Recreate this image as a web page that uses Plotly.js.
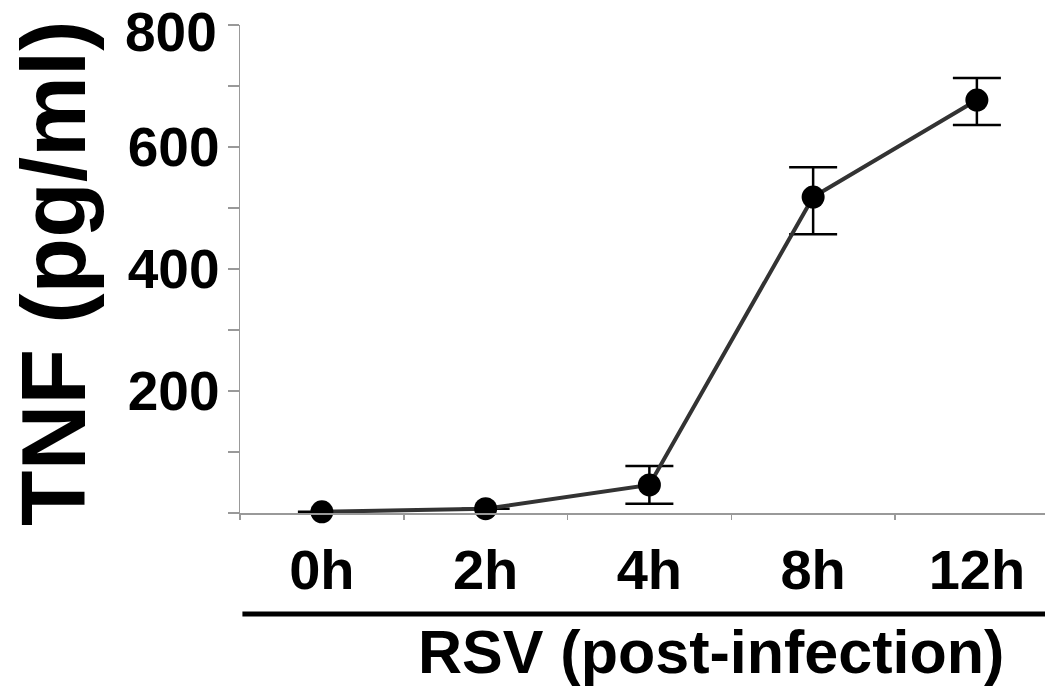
<!DOCTYPE html>
<html>
<head>
<meta charset="utf-8">
<script src="https://cdn.plot.ly/plotly-3.0.1.min.js"></script>
<style>html,body{margin:0;padding:0;background:#fff;}#chart{width:1045px;height:691px;}</style>
</head>
<body>
<div id="chart"></div>
<script>
const categories = ["0h", "2h", "4h", "8h", "12h"];
const tnfValues = [2, 7, 46, 518, 677];
const errPlus = [0, 0, 31, 49, 36];
const errMinus = [0, 0, 31, 61, 41];
const yTickVals = [0, 100, 200, 300, 400, 500, 600, 700, 800];
const yTickText = ["", "", "200", "", "400", "", "600", "", "800"];
const xTitle = "RSV (post-infection)";
const yTitle = "TNF (pg/ml)";

const FONT = "Liberation Sans, Arial, sans-serif";

// the top label sits at the page edge; it is drawn as an annotation so it stays inside the page
const topIdx = yTickVals.length - 1;
const axisTickText = yTickText.map((t, i) => (i === topIdx ? "" : t));

const trace = {
  type: "scatter",
  mode: "lines+markers",
  x: categories,
  y: tnfValues,
  line: {color: "#333333", width: 4},
  marker: {color: "#000000", size: 23},
  error_y: {
    type: "data",
    symmetric: false,
    array: errPlus,
    arrayminus: errMinus,
    color: "#000000",
    thickness: 2.5,
    width: 24
  },
  cliponaxis: false,
  showlegend: false
};

const layout = {
  width: 1045,
  height: 691,
  margin: {l: 240, r: 0, t: 25, b: 178},
  paper_bgcolor: "#ffffff",
  plot_bgcolor: "#ffffff",
  font: {family: FONT, color: "#000000"},
  xaxis: {
    type: "category",
    range: [-0.5, 4.416],
    showgrid: false,
    zeroline: false,
    showline: true,
    linecolor: "#999999",
    linewidth: 1.5,
    ticks: "outside",
    tickson: "boundaries",
    ticklen: 5,
    tickcolor: "#999999",
    tickwidth: 1.5,
    ticklabelstandoff: 7,
    ticklabeloverflow: "allow",
    tickfont: {family: FONT, size: 56, color: "#000000", weight: "bold"}
  },
  yaxis: {
    range: [0, 800],
    showgrid: false,
    zeroline: false,
    showline: true,
    linecolor: "#999999",
    linewidth: 1.5,
    ticks: "outside",
    ticklen: 11,
    tickcolor: "#999999",
    tickwidth: 1.5,
    tickvals: yTickVals,
    ticktext: axisTickText,
    ticklabelstandoff: -3,
    ticklabeloverflow: "allow",
    tickfont: {family: FONT, size: 55, color: "#000000", weight: "bold"}
  },
  shapes: [{
    type: "line",
    xref: "paper", yref: "paper",
    x0: 0.003, x1: 1, y0: -0.207, y1: -0.207,
    line: {color: "#000000", width: 5}
  }],
  annotations: [
    {
      text: yTickText[topIdx],
      xref: "paper", yref: "y",
      x: 0, y: yTickVals[topIdx],
      xanchor: "right", yanchor: "top",
      xshift: -22, yshift: 25,
      borderpad: 0,
      showarrow: false,
      font: {family: FONT, size: 55, color: "#000000", weight: "bold"}
    },
    {
      text: xTitle,
      xref: "paper", yref: "paper",
      x: 0.585, y: -0.285,
      xanchor: "center", yanchor: "middle",
      showarrow: false,
      font: {family: FONT, size: 61, color: "#000000", weight: "bold"}
    },
    {
      text: yTitle,
      xref: "paper", yref: "paper",
      x: -0.231, y: 0.49,
      xanchor: "center", yanchor: "middle",
      textangle: -90,
      showarrow: false,
      font: {family: FONT, size: 91, color: "#000000", weight: "bold"}
    }
  ]
};

Plotly.newPlot("chart", [trace], layout, {staticPlot: true, displayModeBar: false});
</script>
</body>
</html>
